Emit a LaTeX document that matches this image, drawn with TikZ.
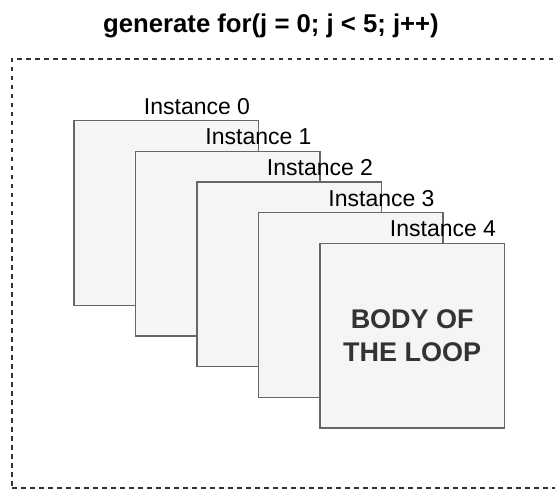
\documentclass[tikz,border=0pt]{standalone}
\usepackage{fontspec}
\setmainfont{Liberation Sans}
\definecolor{boxfill}{HTML}{F5F5F5}
\definecolor{boxline}{HTML}{666666}
\definecolor{bodytext}{HTML}{333333}
\definecolor{dashline}{HTML}{333333}
\begin{document}
\begin{tikzpicture}[x=1pt,y=-1pt,
  inst/.style={draw=boxline, fill=boxfill, line width=1.3pt, minimum width=184.5pt, minimum height=184.5pt, inner sep=0pt, outer sep=0pt, anchor=north west},
  lbl/.style={font=\fontsize{23}{27}\selectfont, anchor=base, inner sep=0pt},
  framebox/.style={draw=dashline, line width=1.4pt, dash pattern=on 4.5pt off 4.5pt, minimum width=560pt, minimum height=429pt, inner sep=0pt, outer sep=0pt, anchor=north west}]
\useasboundingbox (0,0) rectangle (555,489);
\begin{scope}
\clip (0,0) rectangle (555,489);
\node[framebox] (frame) at (12,59) {};
\end{scope}
\node[font=\bfseries\fontsize{25.7}{30}\selectfont, anchor=base, inner sep=0pt] (title) at (271,32.7) {generate for(j = 0; j < 5; j++)};
\foreach \i in {0,...,4} {
  \node[inst] (s\i) at ({74+61.5*\i},{120.7+30.7*\i}) {};
  \node[lbl] (l\i) at ({74+61.5*\i+123},{120.7+30.7*\i-6.5}) {Instance \i};
}
\node[font=\bfseries\fontsize{27}{32.5}\selectfont, text=bodytext, align=center, inner sep=0pt] (body) at (s4.center) {BODY OF\\THE LOOP};
\end{tikzpicture}
\end{document}
